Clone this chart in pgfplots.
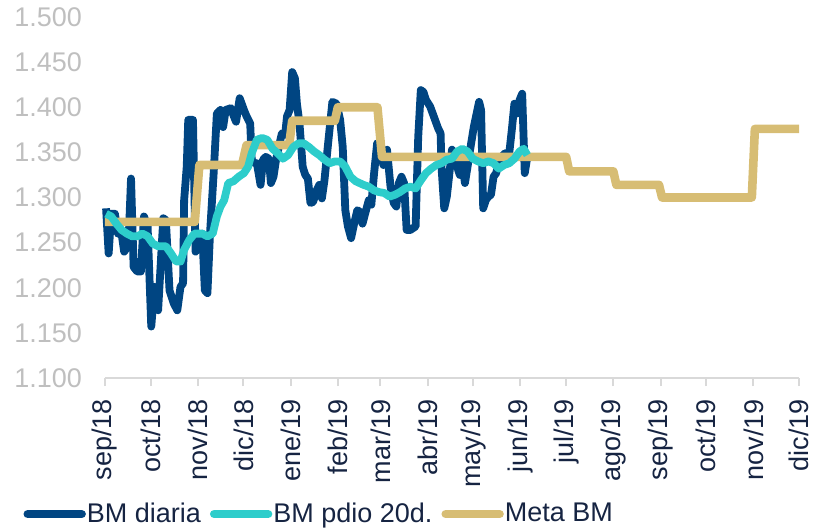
\documentclass[border=0pt]{standalone}
\usepackage{fontspec}
\setmainfont{Liberation Sans}
\usepackage{pgfplots}
\pgfplotsset{compat=1.18}
\definecolor{bmblue}{RGB}{0,69,130}
\definecolor{bmcyan}{RGB}{45,205,203}
\definecolor{bmgold}{RGB}{215,189,116}
\definecolor{labgray}{RGB}{191,191,191}
\definecolor{axgray}{RGB}{217,217,217}
\definecolor{txtnavy}{RGB}{22,36,66}

\begin{document}
\begin{tikzpicture}
\begin{axis}[
  at={(0,0)}, anchor=south west,
  scale only axis,
  width=347pt, height=180.5pt,
  xmin=0, xmax=456, ymin=1.1, ymax=1.5,
  clip=false,
  axis lines*=left,
  y axis line style={draw=none},
  x axis line style={draw=axgray, line width=1pt},
  ytick={1.1,1.15,1.2,1.25,1.3,1.35,1.4,1.45,1.5},
  yticklabels={1.100,1.150,1.200,1.250,1.300,1.350,1.400,1.450,1.500},
  ytick style={draw=none},
  yticklabel style={font=\fontsize{13.5}{15}\selectfont, text=labgray, anchor=east, xshift=-4pt},
  xtick={0,30,61,91,122,153,181,212,242,273,303,334,365,395,426,456},
  xticklabels={sep/18,oct/18,nov/18,dic/18,ene/19,feb/19,mar/19,abr/19,may/19,jun/19,jul/19,ago/19,sep/19,oct/19,nov/19,dic/19},
  xtick style={draw=axgray, line width=1pt},
  tick align=outside,
  major tick length=4pt,
  xticklabel style={font=\fontsize{13.5}{15}\selectfont, text=txtnavy, rotate=90, anchor=east, xshift=-3pt},
  /pgf/number format/assume math mode=true,
  legend columns=3,
  legend style={at={(-0.118,-0.377)}, anchor=west, draw=none, fill=none,
    font=\fontsize{13.5}{15}\selectfont, text=txtnavy, inner sep=0pt,
    nodes={inner xsep=0.5pt},
    /tikz/every even column/.append style={column sep=4pt}},
  legend cell align=left,
  legend image code/.code={\draw[#1, line cap=round] (0pt,0pt) -- (27pt,0pt);},
]
\addlegendimage{bmblue, line width=4.2pt}
\addlegendentry{BM diaria}
\addlegendimage{bmcyan, line width=4.2pt}
\addlegendentry{BM pdio 20d.}
\addlegendimage{bmgold, line width=4.2pt}
\addlegendentry{Meta BM}

% BM diaria
\addplot[forget plot, bmblue, line width=3.9pt, line join=round] coordinates {
(0.7,1.288) (2.4,1.238) (4.1,1.282) (6.5,1.282) (8.5,1.260) (10.9,1.260)
(12.6,1.240) (15.4,1.247) (17.1,1.321) (18.8,1.223) (21.2,1.218) (23.6,1.218)
(25.6,1.279) (28.0,1.268) (30.4,1.157) (32.5,1.201) (34.9,1.175) (38.3,1.277)
(40.0,1.275) (42.4,1.197) (45.1,1.183) (47.5,1.175) (49.6,1.201) (51.3,1.205)
(52.0,1.297) (53.7,1.334) (54.7,1.386) (57.8,1.386) (59.5,1.240) (61.5,1.246)
(63.9,1.260) (65.6,1.197) (67.3,1.194) (69.0,1.260) (71.4,1.327) (73.5,1.393)
(75.9,1.397) (77.6,1.378) (79.3,1.397) (82.7,1.399) (84.4,1.391) (86.1,1.384)
(88.5,1.410) (91.3,1.397) (93.0,1.390) (95.4,1.382) (96.4,1.342) (98.1,1.338)
(99.8,1.338) (102.2,1.314) (103.9,1.342) (105.6,1.345) (107.7,1.343) (109.0,1.316)
(110.7,1.323) (112.5,1.343) (114.2,1.356) (116.2,1.371) (118.3,1.369) (119.6,1.390)
(121.3,1.397) (123.0,1.439) (124.8,1.432) (126.1,1.404) (127.8,1.382) (129.9,1.334)
(131.6,1.325) (133.3,1.321) (135.0,1.294) (136.7,1.295) (139.1,1.308) (140.8,1.314)
(142.5,1.299) (144.2,1.319) (146.6,1.360) (149.4,1.406) (152.1,1.404) (154.5,1.386)
(156.2,1.356) (157.9,1.286) (159.6,1.268) (161.7,1.255) (163.7,1.271) (165.8,1.286)
(167.5,1.284) (169.2,1.271) (170.9,1.282) (173.3,1.297) (175.0,1.292) (176.7,1.325)
(178.8,1.360) (180.8,1.353) (182.9,1.336) (185.3,1.353) (187.6,1.312) (189.7,1.294)
(191.4,1.290) (193.1,1.316) (194.8,1.323) (196.5,1.316) (198.2,1.264) (200.6,1.264)
(204.1,1.268) (205.8,1.367) (207.5,1.419) (209.2,1.417) (210.9,1.408) (213.6,1.401)
(216.0,1.390) (218.8,1.377) (220.5,1.371) (221.1,1.334) (222.9,1.288) (224.6,1.301)
(226.3,1.327) (228.0,1.353) (229.7,1.349) (231.4,1.334) (233.1,1.325) (234.8,1.338)
(236.5,1.316) (238.2,1.334) (239.9,1.353) (242.3,1.378) (245.8,1.406) (247.1,1.397)
(248.5,1.288) (250.2,1.297) (251.9,1.301) (253.6,1.303) (255.3,1.323) (257.0,1.327)
(258.7,1.338) (260.5,1.345) (262.8,1.349) (265.6,1.349) (267.3,1.375) (269.0,1.404)
(270.7,1.393) (272.4,1.408) (274.1,1.415) (275.8,1.327) (277.5,1.345) (279.3,1.349)
};

% Meta BM
\addplot[forget plot, bmgold, line width=4.3pt, line join=round] coordinates {
(0,1.273) (59,1.273) (62,1.336) (90,1.336) (93,1.358) (121,1.358)
(123,1.385) (151,1.385) (153,1.400) (179,1.400) (182,1.345) (303,1.345)
(305,1.329) (334,1.329) (336,1.314) (364,1.314) (366,1.300) (425,1.300)
(427,1.376) (456,1.376)
};

% BM pdio 20d.
\addplot[forget plot, bmcyan, line width=3.9pt, line join=round] coordinates {
(0.7,1.282) (4.1,1.279) (7.5,1.271) (10.9,1.264) (14.4,1.260) (17.8,1.257)
(21.2,1.257) (24.6,1.260) (28.0,1.257) (31.4,1.249) (34.9,1.246) (40.0,1.246)
(43.4,1.238) (46.8,1.229) (49.6,1.229) (52.0,1.242) (55.4,1.253) (58.8,1.260)
(63.9,1.260) (67.3,1.257) (70.8,1.260) (73.5,1.279) (75.9,1.290) (78.3,1.297)
(81.0,1.316) (84.4,1.318) (87.8,1.323) (91.3,1.327) (94.0,1.334) (96.4,1.349)
(99.8,1.364) (103.2,1.366) (106.6,1.364) (110.1,1.354) (113.5,1.349) (116.9,1.343)
(120.3,1.347) (123.7,1.356) (127.1,1.360) (130.6,1.360) (134.0,1.356) (137.4,1.351)
(140.8,1.347) (144.2,1.342) (147.7,1.338) (151.1,1.340) (154.5,1.340) (157.9,1.334)
(161.3,1.323) (164.7,1.318) (169.9,1.314) (173.3,1.312) (176.7,1.308) (180.1,1.306)
(183.5,1.305) (187.0,1.301) (190.4,1.303) (193.8,1.306) (197.2,1.310) (200.6,1.312)
(204.1,1.310) (207.5,1.319) (210.9,1.327) (214.3,1.332) (217.7,1.336) (221.1,1.338)
(224.6,1.342) (228.0,1.343) (231.4,1.351) (234.8,1.354) (238.2,1.351) (241.6,1.343)
(245.1,1.340) (248.5,1.338) (251.9,1.340) (255.3,1.338) (258.7,1.332) (262.2,1.336)
(265.6,1.338) (269.0,1.343) (272.4,1.351) (275.1,1.354) (277.5,1.347)
};
\end{axis}
\pgfresetboundingbox
\path[use as bounding box] (-52.5pt,-74.5pt) rectangle (354pt,189pt);
\end{tikzpicture}
\end{document}
